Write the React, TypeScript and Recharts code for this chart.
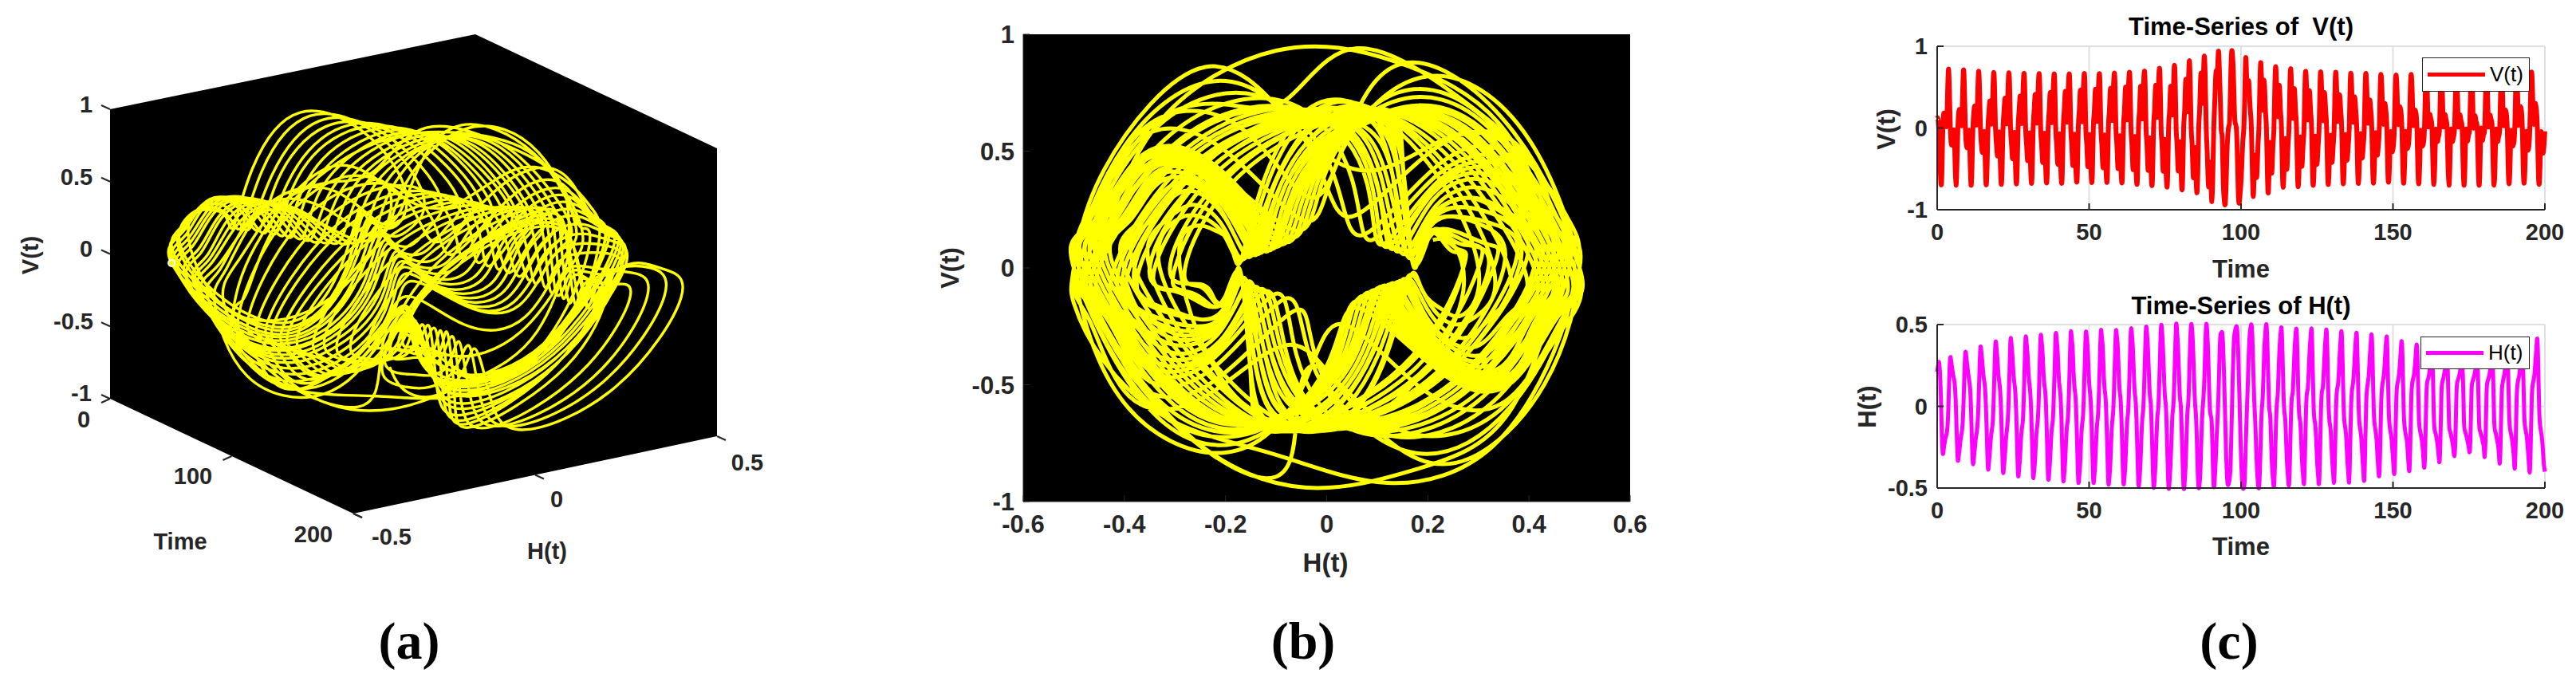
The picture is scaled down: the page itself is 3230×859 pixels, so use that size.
import { LineChart, Line, XAxis, YAxis, CartesianGrid, ReferenceArea } from "recharts";

// H(t), one row per half swing (trough to peak, peak to trough)
const hValues = [
  .21, .25, .27, .2, .04, -.18,
  -.29, -.26, -.22, -.19, -.17, -.12, .01, .2,
  .3, .27, .23, .19, .165, .11, -.02, -.21,
  -.33, -.3, -.25, -.2, -.165, -.11, .02, .21,
  .33, .3, .25, .2, .16, .11, -.02, -.22,
  -.35, -.32, -.26, -.2, -.16, -.1, .03, .22,
  .36, .33, .27, .2, .155, .1, -.03, -.22,
  -.38, -.35, -.28, -.2, -.15, -.1, .03, .23,
  .39, .36, .29, .2, .15, .09, -.04, -.23,
  -.4, -.37, -.3, -.21, -.15, -.09, .04, .24,
  .41, .38, .31, .21, .145, .09, -.04, -.24,
  -.42, -.39, -.32, -.21, -.14, -.09, .04, .25,
  .42, .39, .32, .21, .14, .08, -.05, -.25,
  -.43, -.4, -.33, -.21, -.135, -.08, .05, .26,
  .43, .4, .33, .21, .13, .08, -.05, -.26,
  -.44, -.41, -.33, -.21, -.13, -.08, .06, .26,
  .44, .41, .34, .21, .125, .07, -.06, -.27,
  -.45, -.42, -.34, -.21, -.12, -.07, .07, .27,
  .45, .42, .35, .21, .115, .06, -.07, -.28,
  -.46, -.43, -.35, -.21, -.115, -.06, .08, .28,
  .45, .42, .35, .21, .11, .05, -.08, -.28,
  -.46, -.43, -.35, -.21, -.11, -.05, .09, .29,
  .46, .43, .36, .21, .105, .05, -.09, -.29,
  -.47, -.44, -.36, -.21, -.1, -.04, .1, .3,
  .46, .43, .36, .21, .095, .04, -.1, -.3,
  -.47, -.44, -.36, -.21, -.09, -.03, .11, .31,
  .47, .44, .36, .21, .085, .03, -.11, -.31,
  -.48, -.45, -.36, -.21, -.08, -.02, .12, .32,
  .48, .45, .36, .21, .075, .02, -.12, -.33,
  -.49, -.46, -.36, -.21, -.07, -.01, .13, .33,
  .49, .46, .36, .21, .065, .01, -.14, -.35,
  -.5, -.46, -.36, -.22, -.06, 0, .14, .34,
  .5, .46, .36, .21, .06, 0, -.16, -.36,
  -.5, -.47, -.37, -.2, -.04, .03, .2, .4,
  .5, .47, .36, .19, .03, -.05, -.2, -.41,
  -.5, -.47, -.36, -.17, -.03, .05, .17, .37,
  .5, .46, .33, .13, -.02, -.06, -.12, -.34,
  -.49, -.45, -.34, -.2, -.08, .06, .28, .43,
  .45, .45, .36, .18, -.04, -.26, -.42, -.48,
  -.47, -.44, -.34, -.1, .14, .34, .44, .47,
  .49, .46, .33, .12, -.1, -.3, -.44, -.5,
  -.5, -.44, -.24, -.06, .1, .28, .42, .48,
  .5, .43, .23, .04, -.08, -.24, -.39, -.47,
  -.5, -.4, -.2, -.03, .05, .22, .38, .46,
  .5, .38, .17, -.01, -.06, -.22, -.37, -.45,
  -.49, -.36, -.14, .01, .07, .22, .36, .44,
  .48, .34, .11, -.03, -.08, -.22, -.36, -.44,
  -.48, -.32, -.08, .05, .09, .22, .36, .44,
  .47, .31, .06, -.06, -.1, -.22, -.35, -.43,
  -.47, -.29, -.04, .08, .11, .22, .35, .43,
  .47, .29, .03, -.08, -.12, -.22, -.35, -.43,
  -.47, -.28, -.02, .09, .12, .22, .34, .43,
  .46, .27, .02, -.09, -.13, -.22, -.34, -.42,
  -.46, -.26, -.01, .1, .13, .21, .33, .42,
  .45, .26, .01, -.1, -.14, -.21, -.33, -.41,
  -.46, -.25, 0, .1, .14, .21, .32, .41,
  .44, .25, 0, -.11, -.15, -.21, -.31, -.4,
  -.45, -.25, .01, .11, .15, .21, .31, .4,
  .43, .24, -.01, -.11, -.15, -.2, -.3, -.39,
  -.42, -.24, .02, .12, .16, .2, .29, .38,
  .42, .23, -.02, -.12, -.16, -.2, -.28, -.36,
  -.41, -.23, .03, .13, .16, .2, .27, .36,
  .39, .21, -.04, -.13, -.17, -.2, -.26, -.35,
  -.39, -.21, .05, .14, .17, .2, .26, .34,
  .37, .2, -.05, -.14, -.17, -.2, -.25, -.33,
  -.37, -.2, .06, .15, .17, .2, .25, .32,
  .33, .19, -.07, -.15, -.17, -.2, -.24, -.3,
  -.34, -.19, .07, .15, .17, .2, .23, .29,
  .3, .17, -.08, -.15, -.17, -.2, -.23, -.28,
  -.3, -.17, .08, .15, .17, .19, .22, .26,
  .27, .15, -.09, -.15, -.17, -.19, -.22, -.25,
  -.28, -.16, .09, .15, .17, .19, .22, .25,
  .27, .16, -.09, -.15, -.17, -.19, -.22, -.25,
  -.31, -.18, .08, .15, .17, .19, .23, .27,
  .32, .18, -.07, -.15, -.17, -.2, -.23, -.28,
  -.35, -.2, .06, .14, .17, .2, .25, .31,
  .35, .2, -.05, -.14, -.17, -.2, -.25, -.31,
  -.38, -.21, .05, .14, .17, .2, .26, .34,
  .38, .21, -.04, -.13, -.16, -.2, -.27, -.35,
  -.4, -.22, .04, .13, .16, .2, .28, .36,
  .41, .23, -.03, -.12, -.16, -.2, -.28, -.36,
  -.4,
];

// V(t), same rows as hValues
const vValues = [
  .12, .1, -.1, -.42, -.68, -.55,
  0, .18, .16, .1, .03, .4, .72, .45,
  0, -.2, -.18, -.1, -.04, -.42, -.7, -.44,
  0, .2, .22, .13, .04, .4, .71, .47,
  0, -.2, -.24, -.14, -.04, -.4, -.7, -.47,
  0, .2, .27, .16, .045, .38, .69, .48,
  0, -.2, -.3, -.18, -.05, -.38, -.69, -.49,
  0, .2, .33, .21, .05, .37, .67, .5,
  0, -.2, -.34, -.22, -.05, -.37, -.68, -.51,
  0, .2, .36, .25, .05, .36, .66, .52,
  0, -.2, -.37, -.26, -.055, -.36, -.67, -.52,
  0, .2, .38, .28, .055, .36, .65, .53,
  0, -.2, -.39, -.29, -.06, -.36, -.66, -.53,
  0, .2, .4, .3, .06, .36, .64, .54,
  0, -.2, -.41, -.31, -.065, -.36, -.65, -.54,
  0, .2, .42, .32, .065, .36, .63, .55,
  0, -.2, -.43, -.33, -.07, -.36, -.65, -.55,
  0, .2, .43, .34, .07, .36, .63, .55,
  0, -.2, -.44, -.35, -.075, -.36, -.63, -.55,
  0, .2, .44, .36, .075, .36, .63, .56,
  0, -.2, -.45, -.37, -.08, -.36, -.63, -.56,
  0, .2, .45, .37, .08, .37, .63, .56,
  0, -.2, -.46, -.38, -.085, -.37, -.63, -.56,
  0, .2, .46, .38, .09, .38, .64, .56,
  0, -.2, -.47, -.39, -.095, -.38, -.64, -.56,
  0, .2, .47, .4, .1, .39, .65, .57,
  0, -.2, -.48, -.4, -.105, -.39, -.66, -.57,
  0, .2, .48, .41, .11, .4, .67, .57,
  0, -.2, -.49, -.41, -.12, -.4, -.68, -.57,
  0, .2, .49, .42, .13, .41, .71, .58,
  0, -.2, -.5, -.42, -.14, -.41, -.7, -.58,
  0, .2, .48, .42, .16, .42, .75, .58,
  0, -.2, -.5, -.42, -.17, -.42, -.74, -.58,
  0, .2, .55, .5, .2, .5, .82, .55,
  0, -.2, -.56, -.52, -.24, -.52, -.79, -.55,
  0, .22, .6, .6, .3, .62, .88, .58,
  0, -.28, -.63, -.68, -.42, -.66, -.9, -.58,
  0, .3, .62, .7, .72, .94, .7, .35,
  -.03, -.12, -.62, -.86, -.94, -.74, -.32, -.08,
  .02, .12, .6, .93, .88, .62, .2, .05,
  0, -.3, -.76, -.92, -.8, -.66, -.4, -.15,
  0, .42, .86, .6, .42, .58, .4, .2,
  0, -.5, -.84, -.55, -.33, -.55, -.55, -.22,
  0, .52, .8, .5, .22, .52, .52, .2,
  0, -.55, -.79, -.45, -.18, -.48, -.5, -.2,
  0, .55, .74, .42, .14, .44, .48, .2,
  0, -.55, -.71, -.4, -.13, -.42, -.47, -.2,
  0, .55, .71, .38, .12, .4, .45, .2,
  0, -.55, -.7, -.37, -.11, -.38, -.44, -.2,
  0, .55, .67, .36, .1, .37, .43, .2,
  0, -.55, -.68, -.36, -.1, -.36, -.42, -.21,
  0, .55, .66, .35, .09, .35, .41, .21,
  0, -.54, -.67, -.35, -.09, -.34, -.4, -.21,
  0, .54, .66, .35, .08, .32, .39, .21,
  0, -.54, -.66, -.35, -.08, -.31, -.38, -.21,
  0, .53, .65, .36, .07, .29, .37, .21,
  0, -.53, -.66, -.36, -.07, -.27, -.36, -.21,
  0, .53, .65, .37, .06, .25, .34, .21,
  0, -.52, -.66, -.37, -.06, -.23, -.33, -.21,
  0, .52, .64, .38, .05, .2, .3, .21,
  0, -.52, -.65, -.38, -.05, -.19, -.29, -.21,
  0, .5, .64, .4, .05, .18, .26, .2,
  0, -.5, -.67, -.4, -.05, -.18, -.25, -.2,
  0, .5, .65, .42, .04, .16, .22, .18,
  0, -.5, -.68, -.42, -.04, -.16, -.22, -.18,
  0, .48, .66, .44, .03, .12, .16, .1,
  0, -.46, -.69, -.44, -.03, -.12, -.16, -.1,
  0, .46, .67, .45, .03, .12, .16, .1,
  0, -.44, -.7, -.45, -.03, -.12, -.16, -.1,
  0, .44, .68, .46, .03, .12, .15, .08,
  0, -.42, -.7, -.46, -.03, -.12, -.15, -.08,
  0, .42, .68, .47, .02, .11, .14, .07,
  0, -.42, -.7, -.47, -.02, -.11, -.14, -.07,
  0, .44, .68, .46, .03, .12, .15, .1,
  0, -.46, -.7, -.45, -.03, -.12, -.16, -.1,
  0, .48, .68, .44, .04, .16, .22, .18,
  0, -.48, -.68, -.43, -.04, -.16, -.22, -.18,
  0, .5, .68, .42, .04, .18, .26, .22,
  0, -.5, -.67, -.41, -.05, -.18, -.27, -.22,
  0, .5, .68, .4, .05, .2, .3, .22,
  0, -.52, -.68, -.39, -.05, -.2, -.31, -.22,
  -.04,
];

const timeTicks = [0, 50, 100, 150, 200];
const phaseXTicks = [-0.6, -0.4, -0.2, 0, 0.2, 0.4, 0.6];
const phaseYTicks = [-1, -0.5, 0, 0.5, 1];
const hTicks = [-0.5, 0, 0.5];
const vTicks = [-1, 0, 1];
const cubeHTicks = [-0.5, 0, 0.5];
const cubeVTicks = [-1, -0.5, 0, 0.5, 1];
const cubeTimeTicks = [0, 100, 200];

const INK = "#262626";
const FONT = "'Liberation Sans', Arial, sans-serif";
const SERIF = "'Liberation Serif', serif";

const timeRows = hValues.map((h, i) => ({
  t: (i * 200) / (hValues.length - 1),
  h,
  v: vValues[i],
}));

// camera of the 3D panel, taken from the box corners
const project = (t: number, h: number, v: number) => ({
  x: 138 + (t / 200) * 305 + (h + 0.5) * 456,
  y: 500 + (t / 200) * 144 - (h + 0.5) * 97 - (v + 1) * 181.5,
});
const cubeRows = timeRows.map((r) => project(r.t, r.h, r.v));

const cubeBox = "138,137 596,43 899,186 899,547 443,644 138,500";

function Txt({ x, y, size = 29, anchor = "middle", rotate, fill = INK, family = FONT, children }: any) {
  return (
    <text
      x={x}
      y={y}
      fontSize={size}
      fontWeight="bold"
      fontFamily={family}
      fill={fill}
      textAnchor={anchor}
      dominantBaseline="central"
      style={{ whiteSpace: "pre" }}
      transform={rotate ? `rotate(${rotate} ${x} ${y})` : undefined}
    >
      {children}
    </text>
  );
}

function Backdrop() {
  const stub = (a: { x: number; y: number }, dx: number, dy: number, key: string) => (
    <line key={key} x1={a.x} y1={a.y} x2={a.x + dx} y2={a.y + dy} stroke={INK} strokeWidth={2} />
  );
  return (
    <svg width={3230} height={859} style={{ position: "absolute", left: 0, top: 0 }}>
      <polygon points={cubeBox} fill="#000" />
      {cubeVTicks.map((v) => stub(project(0, -0.5, v), -11, -5, `v${v}`))}
      {cubeTimeTicks.map((t) => stub(project(t, -0.5, -1), t === 200 ? 11 : -11, 5, `t${t}`))}
      {cubeHTicks.map((h) => stub(project(200, h, -1), 11, 5, `h${h}`))}
      <Txt x={108} y={131}>1</Txt>
      <Txt x={96} y={222}>0.5</Txt>
      <Txt x={108} y={312}>0</Txt>
      <Txt x={92} y={403}>-0.5</Txt>
      <Txt x={102} y={493}>-1</Txt>
      <Txt x={105} y={526}>0</Txt>
      <Txt x={242} y={597}>100</Txt>
      <Txt x={393} y={670}>200</Txt>
      <Txt x={226} y={679}>Time</Txt>
      <Txt x={491} y={673}>-0.5</Txt>
      <Txt x={698} y={626}>0</Txt>
      <Txt x={937} y={580}>0.5</Txt>
      <Txt x={686} y={691}>H(t)</Txt>
      <Txt x={38} y={320} rotate={-90}>V(t)</Txt>

      <Txt x={1662} y={705} size={33}>H(t)</Txt>
      <Txt x={1191} y={336} size={31} rotate={-90}>V(t)</Txt>

      <Txt x={2810} y={33} size={31} fill="#000">Time-Series of  V(t)</Txt>
      <Txt x={2810} y={337} size={31}>Time</Txt>
      <Txt x={2365} y={162} size={31} rotate={-90}>V(t)</Txt>
      <Txt x={2810} y={383} size={31} fill="#000">Time-Series of H(t)</Txt>
      <Txt x={2810} y={685} size={31}>Time</Txt>
      <Txt x={2341} y={510} size={31} rotate={-90}>H(t)</Txt>

      <Txt x={513} y={803} size={66} family={SERIF} fill="#000">(a)</Txt>
      <Txt x={1634} y={803} size={66} family={SERIF} fill="#000">(b)</Txt>
      <Txt x={2795} y={803} size={66} family={SERIF} fill="#000">(c)</Txt>
    </svg>
  );
}

function CubePanel() {
  return (
    <div style={{ position: "absolute", left: 0, top: 0 }}>
      <LineChart width={1000} height={859} data={cubeRows} margin={{ top: 0, right: 0, bottom: 0, left: 0 }}>
        <XAxis dataKey="x" type="number" domain={[0, 1000]} hide />
        <YAxis type="number" domain={[0, 859]} reversed hide />
        <Line dataKey="y" type="natural" stroke="#ffff00" strokeWidth={3.4} dot={false} isAnimationActive={false} />
      </LineChart>
    </div>
  );
}

function PhasePanel() {
  const left = 1283, top = 43, w = 761, h = 586;
  const tickStyle = { fontSize: 31, fontWeight: "bold", fontFamily: FONT, fill: INK };
  return (
    <div style={{ position: "absolute", left: left - 90, top: top - 30 }}>
      <LineChart width={w + 120} height={h + 100} data={timeRows} margin={{ top: 30, right: 30, bottom: 0, left: 0 }}>
        <ReferenceArea x1={-0.6} x2={0.6} y1={-1} y2={1} fill="#000" fillOpacity={1} stroke="none" />
        <XAxis dataKey="h" type="number" domain={[-0.6, 0.6]} ticks={phaseXTicks} interval={0} height={70}
          tick={tickStyle} tickSize={-8} tickMargin={25} stroke={INK} />
        <YAxis type="number" domain={[-1, 1]} ticks={phaseYTicks} interval={0} width={90}
          tick={tickStyle} tickSize={-8} tickMargin={19} stroke={INK} />
        <Line dataKey="v" type="natural" stroke="#ffff00" strokeWidth={5} dot={false} isAnimationActive={false} />
      </LineChart>
    </div>
  );
}

function SeriesPanel({ top, dataKey, color, yTicks, yDomain, strokeW }: any) {
  const left = 2429, w = 762, h = 205;
  const tickStyle = { fontSize: 29, fontWeight: "bold", fontFamily: FONT, fill: INK };
  const edge = { stroke: INK, strokeWidth: 2 };
  return (
    <div style={{ position: "absolute", left: left - 80, top: top - 30 }}>
      <LineChart width={w + 110} height={h + 90} data={timeRows} margin={{ top: 30, right: 30, bottom: 0, left: 0 }}>
        <CartesianGrid stroke="#e0e0e0" strokeWidth={2} />
        <XAxis dataKey="t" type="number" domain={[0, 200]} ticks={timeTicks} interval={0} height={60}
          tick={tickStyle} tickSize={-8} tickMargin={25} axisLine={edge} tickLine={edge} />
        <XAxis xAxisId="top" orientation="top" type="number" domain={[0, 200]} ticks={timeTicks} interval={0}
          height={0} tick={false} tickSize={-8} axisLine={edge} tickLine={edge} />
        <YAxis type="number" domain={yDomain} ticks={yTicks} interval={0} width={80}
          tick={tickStyle} tickSize={-8} tickMargin={20} axisLine={edge} tickLine={edge} />
        <YAxis yAxisId="right" orientation="right" type="number" domain={yDomain} ticks={yTicks} interval={0}
          width={0} tick={false} tickSize={-8} axisLine={edge} tickLine={edge} />
        <Line dataKey={dataKey} type="natural" stroke={color} strokeWidth={strokeW} dot={false} isAnimationActive={false} />
      </LineChart>
    </div>
  );
}

function MatlabLegend({ left, top, width, height, color, label }: any) {
  return (
    <div
      style={{
        position: "absolute", left, top, width, height, boxSizing: "border-box",
        background: "#fff", border: `1.5px solid ${INK}`,
        display: "flex", alignItems: "center", paddingLeft: 6,
        fontFamily: FONT, fontSize: 26, color: "#000",
      }}
    >
      <span style={{ display: "inline-block", width: 72, height: 5, background: color, marginRight: 6 }} />
      <span>{label}</span>
    </div>
  );
}

export default function App() {
  return (
    <div style={{ position: "absolute", left: 0, top: 0, width: 3230, height: 859, background: "#fff", overflow: "hidden" }}>
      <Backdrop />
      <CubePanel />
      <PhasePanel />
      <SeriesPanel top={58} dataKey="v" color="#ff0000" yTicks={vTicks} yDomain={[-1, 1]} strokeW={6} />
      <SeriesPanel top={407} dataKey="h" color="#ff00ff" yTicks={hTicks} yDomain={[-0.5, 0.5]} strokeW={5} />
      <MatlabLegend left={3037} top={72} width={135} height={43} color="#ff0000" label="V(t)" />
      <MatlabLegend left={3035} top={422} width={137} height={41} color="#ff00ff" label="H(t)" />
    </div>
  );
}
